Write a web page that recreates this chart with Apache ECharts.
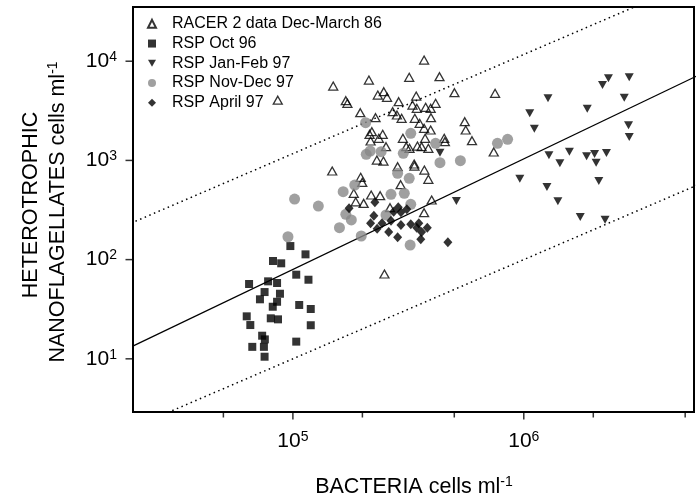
<!DOCTYPE html>
<html><head><meta charset="utf-8">
<script src="https://cdn.jsdelivr.net/npm/echarts@6/dist/echarts.min.js"></script>
<style>html,body{margin:0;padding:0;background:#fff}#c{width:697px;height:501px}</style>
</head><body><div id="c"></div>
<script>
// ---- data (bacteria cells/ml, nanoflagellates cells/ml) ----
const seriesNames = ['RACER 2 data Dec-March 86','RSP Oct 96','RSP Jan-Feb 97','RSP Nov-Dec 97','RSP April 97'];
const racer = [[370000,10280],[149500,5623],[213400,6464],[319000,6881],[431500,6980],[500800,4814],[233200,4562],[247500,4926],[255700,4325],[169500,4000],[172200,3763],[287100,3905],[342000,4459],[329600,3618],[344000,3351],[375800,3430],[395000,3351],[415000,3763],[195800,3027],[228000,2694],[270500,3097],[282200,2869],[295700,2657],[337300,2657],[396300,2694],[354000,2366],[370000,2107],[395000,2026],[555000,2455],[560400,2026],[219800,1947],[214800,1833],[244900,1833],[235600,1671],[217000,1569],[299500,1671],[373700,1671],[452300,1671],[455300,1544],[596500,1580],[253100,1374],[309700,1374],[319900,1324],[346300,1397],[361000,1374],[386100,1324],[231000,1009],[246700,986],[335200,920],[336000,878],[371000,800],[284200,864],[148000,782],[196600,675],[199700,601],[386100,645],[292800,569],[183500,466],[218300,448],[238700,441],[187100,383],[202500,369],[399000,399],[370000,297],[86000,4050],[249200,71.6],[751000,4748],[741000,1216],[263400,334]];
const oct96 = [[97500,137],[113400,113],[82000,96.8],[89000,91.8],[103400,70.5],[116800,62.7],[64600,56.8],[78100,60.4],[85400,58.1],[75400,47.1],[87900,45.3],[72000,39.8],[85400,37.6],[81800,33.5],[106500,34.9],[119500,31.8],[63100,26.8],[65400,21.9],[80200,25.6],[86200,25.0],[119500,21.8],[73600,17.1],[75600,15.7],[66700,13.2],[74900,13.2],[75400,10.5],[103400,14.9]];
const janfeb97 = [[2326000,6723],[2862000,6881],[2192000,5754],[1273000,4227],[2723000,4287],[1061000,2985],[1883000,3320],[1111000,2087],[2842000,2259],[2862000,1722],[1576000,1224],[1285000,1126],[1871000,1100],[2025000,1160],[2280000,1188],[1433000,935],[2057000,948],[961000,654],[1260000,539],[2113000,620],[1405000,387],[1756000,269],[2249000,252],[433500,1196],[510500,390]];
const novdec97 = [[206500,2399],[324000,1876],[415000,1487],[207800,1152],[216200,1244],[241000,1224],[300700,1179],[433500,948],[531300,993],[284200,741],[319000,660],[185300,565],[165100,484],[266000,455],[303700,466],[324000,361],[101700,408],[128900,347],[169500,286],[179100,251],[769000,1487],[851000,1632],[322000,140],[159100,210],[197700,173],[95200,170],[253100,282]];
const april97 = [[175100,329],[226500,378],[224200,277],[217000,232],[231700,205],[243200,232],[266000,247],[260000,190],[273200,304],[293700,300],[311500,321],[284200,168],[293700,223],[324000,227],[344000,210],[351000,232],[361000,190],[382000,210],[358000,160],[469000,150],[286000,337]];
const fitLine = [[10000,6.1],[10000000,13500]];
const upperLine = [[10000,117],[10000000,117000]];
const lowerLine = [[10000,1.0],[10000000,1000]];
const xMajorTicks = [100000,1000000];
const xMinorTicks = [50000,200000,500000,2000000,5000000];
const yMajorTicks = [10,100,1000,10000];
const X_MIN = 20300, X_MAX = 5460000, Y_MIN = 2.91, Y_MAX = 35200;

const FONT = "'Liberation Sans', Arial, Helvetica, sans-serif";
const rich = {
  b:{fontSize:21, lineHeight:22, fontFamily:FONT, color:'#000'},
  s:{fontSize:14, lineHeight:10, verticalAlign:'top', fontFamily:FONT, color:'#000'}
};
function powLabel(v){ const e=Math.log10(v); const r=Math.round(e); if(Math.abs(e-r)>1e-6) return ''; return '{b|10}{s|'+r+'}'; }
const titleRich = {a:{fontSize:21.5, lineHeight:24, fontFamily:FONT, fill:'#000'}, s:{fontSize:14, lineHeight:10, verticalAlign:'top', fontFamily:FONT, fill:'#000'}};

const chart = echarts.init(document.getElementById('c'));
const tickSeries = (data, size, offset) => ({type:'scatter', data, symbol:'rect', symbolSize:size, symbolOffset:offset,
  itemStyle:{color:'#000'}, clip:false, silent:true, z:5});

chart.setOption({
  animation:false,
  grid:{left:133, right:-2, top:7, bottom:89, show:true, borderColor:'#000', borderWidth:2, backgroundColor:'transparent'},
  xAxis:{type:'log', logBase:10, min:X_MIN, max:X_MAX,
    axisLine:{show:false}, axisTick:{show:false}, splitLine:{show:false}, minorTick:{show:false},
    axisLabel:{margin:18, formatter:powLabel, rich}},
  yAxis:{type:'log', logBase:10, min:Y_MIN, max:Y_MAX,
    axisLine:{show:false}, axisTick:{show:false}, splitLine:{show:false}, minorTick:{show:false},
    axisLabel:{margin:16, formatter:powLabel, rich}},
  legend:{orient:'vertical', left:142, top:9, itemWidth:8, itemHeight:8, itemGap:0, selectedMode:false,
    data:seriesNames,
    textStyle:{fontSize:16, fontFamily:FONT, color:'#000', lineHeight:19.7, padding:[0,0,0,11]}},
  series:[
    {type:'line', data:lowerLine, showSymbol:false, silent:true, lineStyle:{color:'#000', width:1.5, type:[1.5,3.5]}, z:1},
    {type:'line', data:upperLine, showSymbol:false, silent:true, lineStyle:{color:'#000', width:1.5, type:[1.5,3.5]}, z:1},
    {type:'line', data:fitLine, showSymbol:false, silent:true, lineStyle:{color:'#000', width:1.3}, z:1},
    {name:seriesNames[0], type:'scatter', data:racer, symbol:'triangle', symbolSize:[9,8],
      itemStyle:{color:'rgba(255,255,255,0)', borderColor:'#000', borderWidth:1.3}},
    {name:seriesNames[1], type:'scatter', data:oct96, symbol:'rect', symbolSize:8, itemStyle:{color:'#000'}},
    {name:seriesNames[2], type:'scatter', data:janfeb97, symbol:'path://M0,0L10,0L5,9Z', symbolSize:[9,8], itemStyle:{color:'#000'}},
    {name:seriesNames[3], type:'scatter', data:novdec97, symbol:'circle', symbolSize:11, itemStyle:{color:'#888888'}},
    {name:seriesNames[4], type:'scatter', data:april97, symbol:'diamond', symbolSize:[9,10], itemStyle:{color:'#000'}},
    tickSeries(xMajorTicks.map(v=>[v,Y_MIN]), [1.5,7], [0,4]),
    tickSeries(xMinorTicks.map(v=>[v,Y_MIN]), [1.5,5], [0,3]),
    tickSeries(yMajorTicks.map(v=>[X_MIN,v]), [7,1.5], [-4,0])
  ],
  graphic:[
    {type:'text', x:414, y:487, style:{text:'{a|BACTERIA cells ml}{s|-1}', align:'center', verticalAlign:'middle', rich:titleRich}},
    {type:'text', x:31, y:205, rotation:Math.PI/2, style:{text:'HETEROTROPHIC', align:'center', verticalAlign:'middle',
      fontSize:21.5, fontFamily:FONT, fill:'#000'}},
    {type:'text', x:58, y:212, rotation:Math.PI/2, style:{text:'{a|NANOFLAGELLATES cells ml}{s|-1}', align:'center', verticalAlign:'middle', rich:titleRich}}
  ]
});
</script></body></html>
